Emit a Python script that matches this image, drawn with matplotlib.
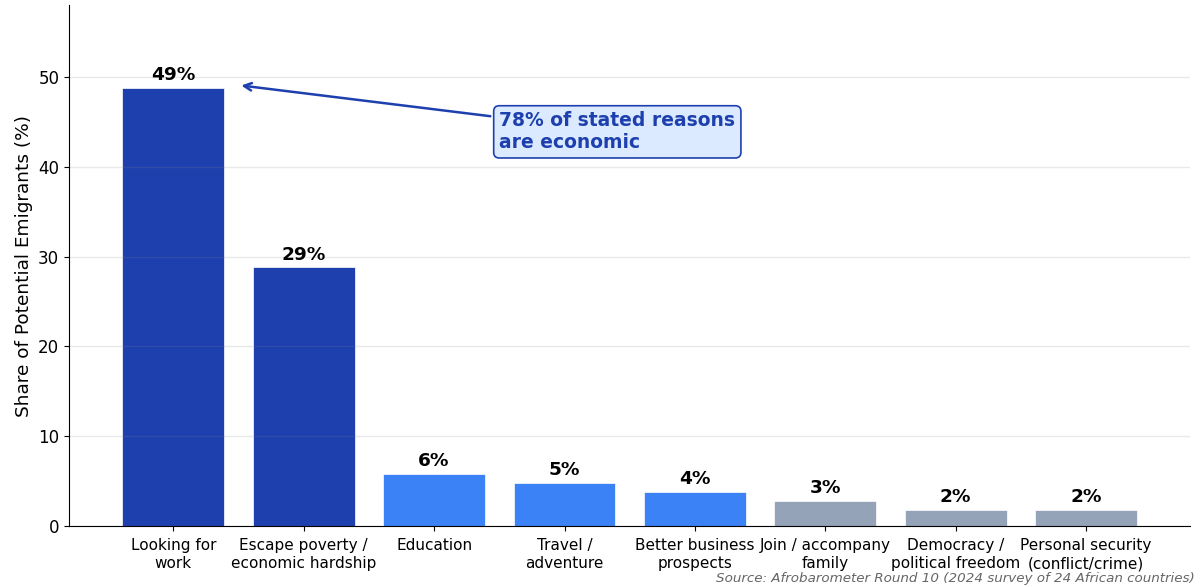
import matplotlib.pyplot as plt

# Dados (Afrobarometer Round 10)
motivos = ['Looking for\nwork', 'Escape poverty /\neconomic hardship', 'Education',
           'Travel /\nadventure', 'Better business\nprospects', 'Join / accompany\nfamily',
           'Democracy /\npolitical freedom', 'Personal security\n(conflict/crime)']
percentuais = [48.8, 28.8, 5.8, 4.8, 3.8, 2.8, 1.8, 1.8]
grupos = ['eco', 'eco', 'opp', 'opp', 'opp', 'soc', 'soc', 'soc']

cores_grupo = {'eco': '#1e40af', 'opp': '#3b82f6', 'soc': '#94a3b8'}
cores = [cores_grupo[g] for g in grupos]

fig, ax = plt.subplots(figsize=(12, 5.87), dpi=100)
plt.subplots_adjust(left=0.0575, right=0.992, top=0.991, bottom=0.104)

x = range(len(motivos))
barras = ax.bar(x, percentuais, width=0.78, color=cores, edgecolor='white', linewidth=0.5)

# Rótulos de valor
for xi, v in zip(x, percentuais):
    ax.text(xi, v + 0.4, f'{v:.0f}%', ha='center', va='bottom',
            fontsize=13.3, fontweight='bold', color='black')

ax.set_xticks(list(x))
ax.set_xticklabels(motivos, fontsize=11, linespacing=1.3)
ax.tick_params(axis='x', pad=5)
ax.tick_params(axis='y', labelsize=12)
ax.set_ylabel('Share of Potential Emigrants (%)', fontsize=13.3)
ax.set_xlim(-0.8, 7.8)
ax.set_ylim(0, 58)
ax.yaxis.grid(True, color='#888888', linewidth=1, alpha=0.18)
ax.spines['top'].set_visible(False)
ax.spines['right'].set_visible(False)

# Anotação
ax.annotate('78% of stated reasons\nare economic', xy=(0.5, 49.1), xytext=(2.5, 43.9),
            fontsize=13.5, fontweight='bold', color='#1e40af', ha='left', va='center',
            bbox=dict(boxstyle='round,pad=0.3', facecolor='#dbeafe', edgecolor='#1e40af', linewidth=1.2),
            arrowprops=dict(arrowstyle='->', color='#1e40af', lw=1.8))

fig.text(0.996, 0.003, 'Source: Afrobarometer Round 10 (2024 survey of 24 African countries)',
         ha='right', va='bottom', fontsize=9.7, style='italic', color='#666666')

plt.savefig('out.png', dpi=100)
